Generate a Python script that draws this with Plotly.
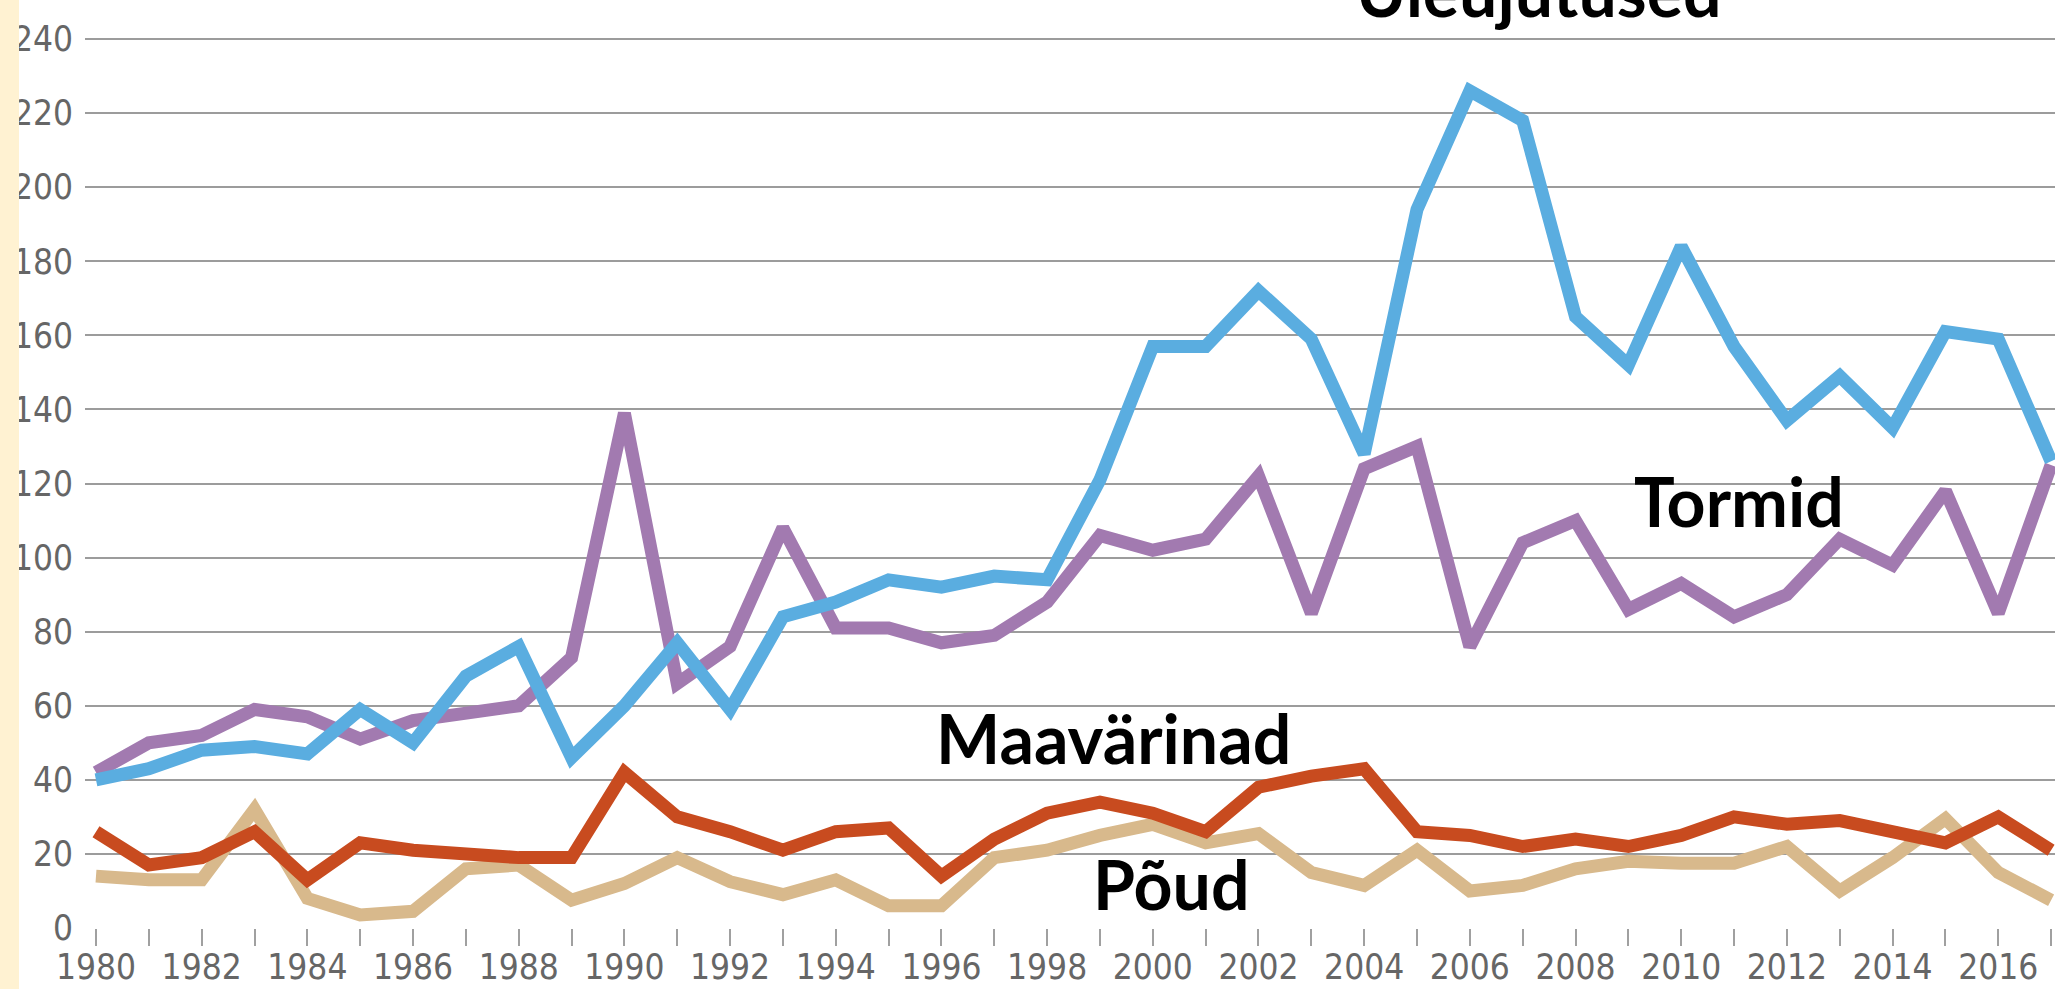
import plotly.graph_objects as go

# --- data -----------------------------------------------------------------
years = list(range(1980, 2018))

# Üleujutused (floods)
floods = [40, 43, 48, 49, 47, 59, 50, 68, 76, 46,
          60, 77, 59, 84, 88, 94, 92, 95, 94, 121,
          157, 157, 172, 159, 128, 194, 226, 218, 165, 152,
          184, 157, 137, 149, 135, 161, 159, 126]

# Tormid (storms)
storms = [42, 50, 52, 59, 57, 51, 56, 58, 60, 73,
          139, 66, 76, 108, 81, 81, 77, 79, 88, 106,
          102, 105, 122, 85, 124, 130, 76, 104, 110, 86,
          93, 84, 90, 105, 98, 118, 85, 125]

# Maavärinad (earthquakes)
quakes = [26, 17, 19, 26, 13, 23, 21, 20, 19, 19,
          42, 30, 26, 21, 26, 27, 14, 24, 31, 34,
          31, 26, 38, 41, 43, 26, 25, 22, 24, 22,
          25, 30, 28, 29, 26, 23, 30, 21]

# Põud (droughts)
droughts = [14, 13, 13, 32, 8, 3.5, 4.5, 16, 17, 7.5,
            12, 19, 12.5, 9, 13, 6, 6, 19, 21, 25,
            28, 23, 25.5, 15, 11.5, 21, 10, 11.5, 16, 18,
            17.5, 17.5, 22, 10, 19, 29.5, 15, 7.5]

x_labels = ["1980", "1982", "1984", "1986", "1988", "1990", "1992", "1994",
            "1996", "1998", "2000", "2002", "2004", "2006", "2008", "2010",
            "2012", "2014", "2016"]
y_ticks = list(range(0, 241, 20))

# --- figure ---------------------------------------------------------------
# (name, values, colour, x axis) - the top-most line goes on the tick axis
series = [
    ("Tormid", storms, "#a27ab0", "x"),
    ("Üleujutused", floods, "#5aade0", "x"),
    ("Põud", droughts, "#d8b98c", "x"),
    ("Maavärinad", quakes, "#c84b1f", "x2"),
]

fig = go.Figure()
for name, vals, col, xa in series:
    fig.add_trace(go.Scatter(
        x=years, y=vals, mode="lines", name=name, xaxis=xa,
        line=dict(color=col, width=13),
        showlegend=False,
    ))

x_range = [1979.792, 2017.074]
label_font = dict(family="Liberation Sans Narrow, DejaVu Sans Condensed, sans-serif",
                  size=35, color="#666666")

# labels on the main x axis, no tick marks
fig.update_layout(xaxis=dict(
    range=x_range, automargin=False,
    tickmode="array", tickvals=[int(t) for t in x_labels], ticktext=x_labels,
    ticks="", ticklabelstandoff=15, tickfont=label_font,
    showgrid=False, zeroline=False, showline=False,
))
# yearly tick marks on an overlaid twin axis
fig.update_layout(xaxis2=dict(
    range=x_range, overlaying="x", side="bottom", anchor="y", automargin=False,
    tickmode="array", tickvals=years, showticklabels=False,
    ticks="outside", ticklen=17, tickwidth=2, tickcolor="#a0a0a0",
    showgrid=False, zeroline=False, showline=False,
))
fig.update_yaxes(
    range=[0, 250], automargin=False,
    tickmode="array", tickvals=y_ticks,
    showgrid=True, gridcolor="#9c9c9c", gridwidth=2,
    zeroline=False, showline=False,
    tickfont=label_font, ticklabelstandoff=11,
)

big = dict(family="Lato, Open Sans, sans-serif", size=68, color="black")
labels = [
    ("Tormid", 2011.1, 115.5),
    ("Maavärinad", 1999.25, 51.5),
    ("Põud", 2000.35, 12.0),
]
for txt, ax_x, ax_y in labels:
    fig.add_annotation(x=ax_x, y=ax_y, xref="x", yref="y", text=f"<b>{txt}</b>",
                       showarrow=False, font=big, xanchor="center", yanchor="middle")

# flood label sits above the plot and is cut by the page edge
fig.add_annotation(x=2007.3, y=1.012, xref="x", yref="paper",
                   text="<b>Üleujutused</b>", showarrow=False, font=big,
                   xanchor="center", yanchor="middle")

# cream strip on the left edge
fig.add_shape(type="rect", xref="paper", yref="paper",
              x0=-85 / 1970, x1=(19 - 85) / 1970, y0=-1, y1=2,
              fillcolor="#fff2d2", line=dict(width=0), layer="above")

fig.update_layout(
    width=2055, height=989,
    margin=dict(l=85, r=0, t=2, b=61),
    plot_bgcolor="white", paper_bgcolor="white",
)

# drop the default body margin so the figure sits at the page corner
fig.write_html("out.html", config={"displayModeBar": False},
               post_script="document.body.style.margin='0px';")
